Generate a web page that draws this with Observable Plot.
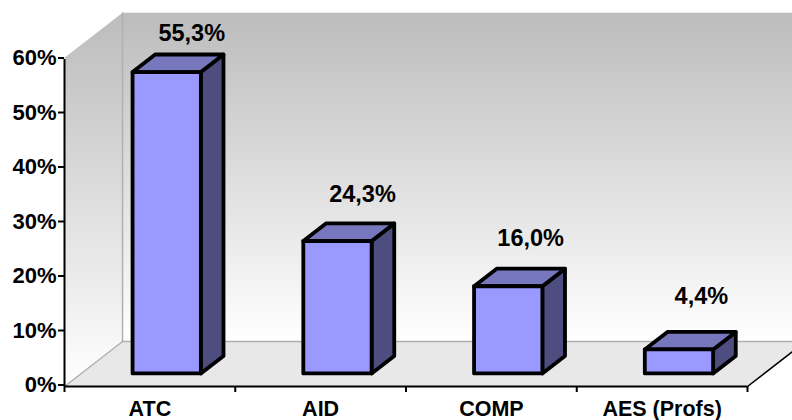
<!DOCTYPE html>
<html>
<head>
<meta charset="utf-8">
<style>
html,body{margin:0;padding:0;background:#fff;overflow:hidden}
svg{display:block;font-family:"Liberation Sans",Arial,sans-serif}
</style>
<script src="https://cdn.jsdelivr.net/npm/d3@7"></script>
<script src="https://cdn.jsdelivr.net/npm/@observablehq/plot@0.6"></script>
</head>
<body>
<script>
const categories = ["ATC", "AID", "COMP", "AES (Profs)"];
const values = [55.3, 24.3, 16.0, 4.4];
const valueLabels = ["55,3%", "24,3%", "16,0%", "4,4%"];
const yTicks = [0, 10, 20, 30, 40, 50, 60];

// Oblique projection of the 3D box, in data units
const depthX = 0.34, depthY = 8.26, wallTop = 60.3;
const project = (c, v, d) => ({x: c + d * depthX, y: v + d * depthY});
const poly = pts => [...pts, pts[0]].map(([c, v, d]) => project(c, v, d));
const line = (pts, o) => Plot.line(poly(pts), {x: "x", y: "y", curve: "linear", ...o});
const slot0 = 0.3, slot1 = 0.7, d0 = 0.29, d1 = 0.68;

const edge = (pts, stroke = "#b0b0b0") => Plot.line(pts.map(([c, v, d]) => project(c, v, d)),
  {x: "x", y: "y", stroke, strokeWidth: 1.5});

const barMarks = values.flatMap((v, i) => {
  const a = i + slot0, b = i + slot1;
  const common = {stroke: "#000", strokeWidth: 3.8, strokeLinejoin: "round"};
  return [
    line([[b, 0, d0], [b, 0, d1], [b, v, d1], [b, v, d0]], {...common, fill: "#4d4d80"}),
    line([[a, v, d0], [a, v, d1], [b, v, d1], [b, v, d0]], {...common, fill: "#7777bd"}),
    line([[a, 0, d0], [b, 0, d0], [b, v, d0], [a, v, d0]], {...common, fill: "#9999ff"})
  ];
});

const labelLift = [9.5, 10.9, 11.2, 12.1];
const labelShift = [0.745, 0.745, 0.73, 0.73];
const labelData = values.map((v, i) => ({x: i + labelShift[i], y: v + labelLift[i], t: valueLabels[i]}));
const catData = categories.map((c, i) => ({x: i + 0.5, t: c}));

const gradient = () => {
  const defs = d3.create("svg:defs");
  const g = defs.append("linearGradient").attr("id", "wallGrad")
    .attr("x1", 0).attr("y1", 0).attr("x2", 0).attr("y2", 1);
  g.append("stop").attr("offset", "0%").attr("stop-color", "#bcbcbc");
  g.append("stop").attr("offset", "100%").attr("stop-color", "#ffffff");
  return defs.node();
};

const chart = Plot.plot({
  width: 792,
  height: 420,
  marginLeft: 64,
  marginRight: 45,
  marginTop: 59,
  marginBottom: 34,
  style: {background: "#fff", overflow: "hidden"},
  x: {type: "linear", domain: [0, 4], axis: null},
  y: {type: "linear", domain: [0, 60], axis: null},
  marks: [
    gradient,
    line([[0, 0, 1], [5, 0, 1], [5, wallTop, 1], [0, wallTop, 1]], {fill: "url(#wallGrad)"}),
    line([[0, 0, 0], [0, 0, 1], [0, wallTop, 1], [0, wallTop, 0]], {fill: "url(#wallGrad)"}),
    line([[0, 0, 0], [0, 0, 1], [4, 0, 1], [4, 0, 0]], {fill: "#e8e8e8"}),
    edge([[0, 0, 1], [0, wallTop, 1]]),
    edge([[0, 0, 0], [0, 0, 1], [4, 0, 1]]),
    edge([[4, 0, 0], [4, 0, 1]], "#000"),
    ...barMarks,
    Plot.ruleX([0], {y1: 0, y2: 60, stroke: "#000", strokeWidth: 2}),
    Plot.ruleY([0], {x1: 0, x2: 4, stroke: "#000", strokeWidth: 2}),
    Plot.axisX({
      anchor: "bottom", ticks: [0, 1, 2, 3, 4], tickSize: 6, tickFormat: () => "",
      stroke: "#000", strokeWidth: 2, strokeOpacity: 1, label: null
    }),
    Plot.axisY({
      anchor: "left", ticks: yTicks, tickSize: 6, tickPadding: 2,
      tickFormat: d => d + "%", stroke: "#000", strokeWidth: 2, strokeOpacity: 1,
      fontSize: 22, fontWeight: "bold", fill: "#000", dy: -1.5, label: null
    }),
    Plot.text(catData, {
      x: "x", frameAnchor: "bottom", text: "t", dy: 23,
      fontSize: 21.5, fontWeight: "bold", fill: "#000", lineAnchor: "middle"
    }),
    Plot.text(labelData, {
      x: "x", y: "y", text: "t", fontSize: 23.5, fontWeight: "bold", fill: "#000"
    })
  ]
});
document.body.appendChild(chart);
</script>
</body>
</html>
